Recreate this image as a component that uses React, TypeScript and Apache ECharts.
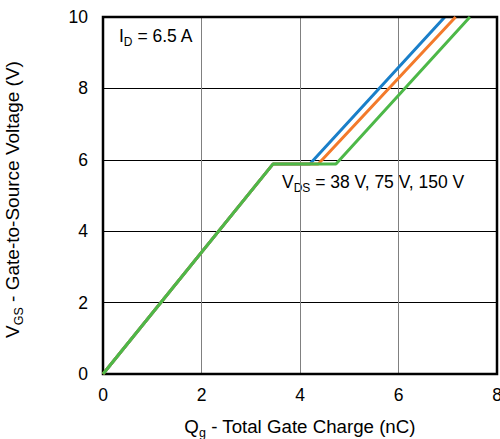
import React, { useEffect, useRef } from "react";
import * as echarts from "echarts";

const xTicks = [0, 2, 4, 6, 8];
const yTicks = [0, 2, 4, 6, 8, 10];
const seriesNames = ["38 V", "75 V", "150 V"];
const seriesColors = ["#1a7fc9", "#f37a2b", "#4db848"];
const vds38: [number, number][] = [[0, 0], [3.45, 5.88], [4.2, 5.88], [6.94, 10]];
const vds75: [number, number][] = [[0, 0], [3.45, 5.88], [4.37, 5.88], [7.16, 10]];
const vds150: [number, number][] = [[0, 0], [3.45, 5.88], [4.73, 5.88], [7.45, 10]];
const seriesData = [vds38, vds75, vds150];

const FONT = "'Liberation Sans', Arial, Helvetica, sans-serif";

const makeRich = (size: number, sub: number) => ({
  m: { fontSize: size, color: "#000", fontFamily: FONT },
  s: { fontSize: sub, color: "#000", fontFamily: FONT, padding: [12, 0, 0, 0] },
});
const rich = makeRich(17.5, 12);

export default function App() {
  const ref = useRef<HTMLDivElement>(null);
  useEffect(() => {
    document.body.style.margin = "0";
    const chart = echarts.init(ref.current!, null, { renderer: "svg" });
    chart.setOption({
      animation: false,
      textStyle: { fontFamily: FONT },
      grid: {
        left: 103,
        top: 17,
        right: 3,
        bottom: 65,
        containLabel: false,
        outerBoundsMode: "none",
        show: true,
        borderColor: "#000",
        borderWidth: 2.5,
        z: 3,
        backgroundColor: "transparent",
      },
      xAxis: {
        type: "value",
        min: xTicks[0],
        max: xTicks[xTicks.length - 1],
        interval: 2,
        name: "{m|Q}{s|g}{m| - Total Gate Charge (nC)}",
        nameLocation: "middle",
        nameGap: 40,
        nameTextStyle: { rich: makeRich(18.7, 12.5) },
        axisLine: { show: false },
        axisTick: { show: false },
        axisLabel: { fontSize: 17.5, color: "#000", margin: 12, fontFamily: FONT },
        splitLine: { show: true, lineStyle: { color: "#808080", width: 1 } },
      },
      yAxis: {
        type: "value",
        min: yTicks[0],
        max: yTicks[yTicks.length - 1],
        interval: 2,
        name: "{m|V}{s|GS}{m| - Gate-to-Source Voltage (V)}",
        nameLocation: "middle",
        nameGap: 78,
        nameTextStyle: { rich: makeRich(19, 12.5), padding: [0, 8, 0, 0] },
        axisLine: { show: false },
        axisTick: { show: false },
        axisLabel: { fontSize: 17.5, color: "#000", margin: 15, fontFamily: FONT },
        splitLine: { show: true, lineStyle: { color: "#000", width: 1 } },
      },
      series: seriesData.map((d, i) => ({
        name: seriesNames[i],
        type: "line",
        data: d,
        symbol: "none",
        lineStyle: { color: seriesColors[i], width: 3 },
        z: 2 + i,
      })),
      graphic: [
        {
          type: "text",
          left: 119,
          top: 27,
          style: {
            text: "{m|I}{s|D}{m| = 6.5 A}",
            rich,
          },
        },
        {
          type: "text",
          left: 282,
          top: 173,
          style: {
            text: "{m|V}{s|DS}{m| = 38 V, 75 V, 150 V}",
            rich,
          },
        },
      ],
    });
    return () => chart.dispose();
  }, []);
  return (
    <div
      ref={ref}
      style={{ position: "absolute", left: 0, top: 0, width: 500, height: 439 }}
    />
  );
}
